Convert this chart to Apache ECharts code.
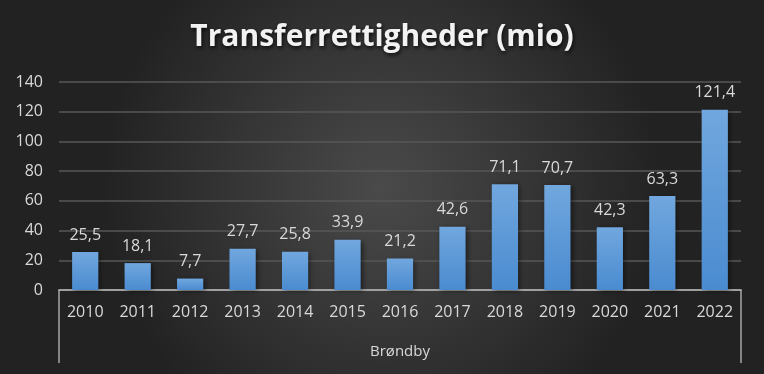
<!DOCTYPE html>
<html><head><meta charset="utf-8">
<script src="https://cdn.jsdelivr.net/npm/echarts@6/dist/echarts.min.js"></script>
<style>html,body{margin:0;padding:0;background:#2b2b2b}#c{width:764px;height:374px}</style>
</head><body><div id="c"></div>
<script>
const categories = ['2010','2011','2012','2013','2014','2015','2016','2017','2018','2019','2020','2021','2022'];
const values = [25.5, 18.1, 7.7, 27.7, 25.8, 33.9, 21.2, 42.6, 71.1, 70.7, 42.3, 63.3, 121.4];
const groupLabel = ['Brøndby'];
const titleText = 'Transferrettigheder (mio)';
const font = '"Open Sans", "DejaVu Sans", sans-serif';
const chart = echarts.init(document.getElementById('c'));
chart.setOption({
  animation: false,
  backgroundColor: {
    type: 'radial', x: 0.5, y: 0.5, r: 0.75,
    colorStops: [{offset: 0, color: '#4a4a4a'}, {offset: 1, color: '#222222'}]
  },
  title: {
    text: titleText, left: 'center', top: 17,
    textStyle: {
      color: '#f2f2f2', fontFamily: font, fontWeight: 'bold', fontSize: 30,
      textShadowColor: 'rgba(0,0,0,0.8)', textShadowBlur: 4, textShadowOffsetX: 1, textShadowOffsetY: 2
    }
  },
  grid: {left: 59, right: 23, top: 82, bottom: 84, containLabel: false},
  xAxis: [{
    type: 'category', data: categories, position: 'bottom',
    axisLine: {show: true, lineStyle: {color: '#a6a6a6', width: 1.5}},
    axisTick: {show: false},
    axisLabel: {color: '#d9d9d9', fontFamily: font, fontSize: 16, margin: 14}
  }, {
    type: 'category', data: groupLabel, position: 'bottom',
    axisLine: {show: true, lineStyle: {color: '#a6a6a6', width: 1.5}},
    axisTick: {show: true, length: 73, lineStyle: {color: '#a6a6a6', width: 1.5}},
    axisLabel: {color: '#d9d9d9', fontFamily: font, fontSize: 15, margin: 54}
  }],
  yAxis: {
    type: 'value', min: 0, max: 140, interval: 20,
    axisLine: {show: false}, axisTick: {show: false},
    axisLabel: {color: '#d9d9d9', fontFamily: font, fontSize: 16, margin: 16},
    splitLine: {lineStyle: {color: '#575757', width: 1.5}}
  },
  series: [{
    type: 'bar', data: values, xAxisIndex: 0, barWidth: '50%',
    itemStyle: {
      color: {type: 'linear', x: 0, y: 0, x2: 0, y2: 1,
        colorStops: [{offset: 0, color: '#71a7de'}, {offset: 1, color: '#4a8bd0'}]},
      shadowColor: 'rgba(0,0,0,0.5)', shadowBlur: 5, shadowOffsetX: 2, shadowOffsetY: 1
    },
    label: {
      show: true, position: 'top', distance: 9, color: '#d9d9d9', fontFamily: font, fontSize: 16,
      formatter: p => String(p.value).replace('.', ',')
    }
  }]
});
</script></body></html>
